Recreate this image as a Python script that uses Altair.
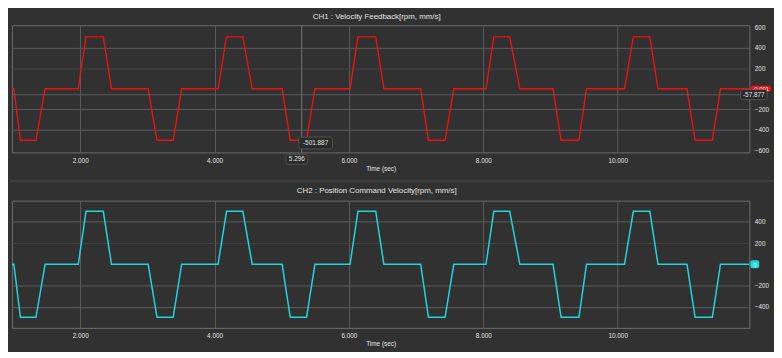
import altair as alt
import pandas as pd

# ---------------- data ----------------
time_s = [0.984, 1.013, 1.110, 1.342, 1.477, 1.971, 2.087, 2.344, 2.465, 3.012,
          3.143, 3.384, 3.510, 4.052, 4.178, 4.421, 4.560, 5.006, 5.126, 5.369,
          5.494, 6.017, 6.134, 6.399, 6.520, 7.068, 7.183, 7.431, 7.561, 8.040,
          8.156, 8.393, 8.544, 9.038, 9.158, 9.424, 9.536, 10.102, 10.233, 10.479,
          10.600, 11.032, 11.152, 11.409, 11.530, 11.960]
ch1_rpm = [0, 0, -502, -502, 0, 0, 506, 506, 0, 0,
           -502, -502, 0, 0, 506, 506, 0, 0, -502, -502,
           0, 0, 506, 506, 0, 0, -502, -502, 0, 0,
           506, 506, 0, 0, -502, -502, 0, 0, 506, 506,
           0, 0, -502, -502, 0, 0]
ch2_rpm = [0, 0, -500, -500, 0, 0, 500, 500, 0, 0,
           -500, -500, 0, 0, 500, 500, 0, 0, -500, -500,
           0, 0, 500, 500, 0, 0, -500, -500, 0, 0,
           500, 500, 0, 0, -500, -500, 0, 0, 500, 500,
           0, 0, -500, -500, 0, 0]

x_ticks = [2, 4, 6, 8, 10]
ch1_ticks = [-600, -400, -200, 200, 400, 600]
ch2_ticks = [-400, -200, 200, 400]
x_domain = [0.984, 11.96]
ch1_domain = [-620, 620]
ch2_domain = [-600, 600]

ch1_title = "CH1 : Velocity Feedback[rpm, mm/s]"
ch2_title = "CH2 : Position Command Velocity[rpm, mm/s]"
x_title = "Time (sec)"
cursor_time = 5.296
cursor_value = -501.887
hline_value = -57.877
ch1_live = "-0.001"
ch2_live = "0"

# ---------------- styling ----------------
BG = "#313131"
GRID = "#5c5c5c"
GRID_FAINT = "#444444"
FRAME = "#6e6e6e"
TXT = "#e4e4e4"
RED = "#ee1111"
CYAN = "#1fd6dc"
FONT = "Liberation Sans"
W, H1, H2 = 748, 129, 129

one = pd.DataFrame({"k": [0]})


def grid_color():
    return {"condition": [{"test": "abs(datum.value) == 600", "value": "transparent"},
                          {"test": "datum.value == 200", "value": GRID_FAINT}],
            "value": GRID}


def x_axis(title_pad):
    return alt.Axis(values=x_ticks, format=".3f", title=x_title, grid=True,
                    gridColor=GRID, ticks=False, domain=False, labelPadding=5,
                    labelFontSize=6.5, labelColor=TXT, labelFont=FONT,
                    labelOverlap=False,
                    titleFontSize=6.5, titleFontWeight="normal", titleColor=TXT,
                    titleFont=FONT, titlePadding=title_pad)


def y_axis(vals):
    return alt.Axis(values=vals, orient="right", title=None, grid=True,
                    gridColor=grid_color(), ticks=False, domain=False,
                    labelPadding=5, labelAlign="left", labelFontSize=6.5,
                    labelColor=TXT, labelFont=FONT, labelOverlap=False)


def text_at(x, y, txt, size=8, color=TXT):
    return alt.Chart(one).mark_text(fontSize=size, color=color, font=FONT,
                                    baseline="middle", align="center").encode(
        x=alt.value(x), y=alt.value(y), text=alt.value(txt))


def box_at(x, x2, y, y2, fill, stroke=None):
    kw = dict(fill=fill, cornerRadius=2)
    if stroke:
        kw.update(stroke=stroke, strokeWidth=0.8)
    return alt.Chart(one).mark_rect(**kw).encode(
        x=alt.value(x), x2=alt.value(x2), y=alt.value(y), y2=alt.value(y2))


# ---------------- CH1 ----------------
df1 = pd.DataFrame({"t": time_s, "v": ch1_rpm})
xs = alt.Scale(domain=x_domain, nice=False, zero=False)
ys1 = alt.Scale(domain=ch1_domain, nice=False, zero=False)
xa1 = x_axis(2)
ya1 = y_axis(ch1_ticks)

# nearly invisible rect fixing the drawing's outer bounds (774 x 342)
frame_bounds = alt.Chart(one).mark_rect(fill=BG, opacity=0.01).encode(
    x=alt.value(-2), x2=alt.value(772), y=alt.value(-14), y2=alt.value(328))

sep_line = alt.Chart(one).mark_rule(color="#505050").encode(
    x=alt.value(-2), x2=alt.value(772), y=alt.value(158))

line1 = alt.Chart(df1).mark_line(color=RED, strokeWidth=1.4).encode(
    x=alt.X("t:Q", scale=xs, axis=xa1),
    y=alt.Y("v:Q", scale=ys1, axis=ya1))

hline = alt.Chart(pd.DataFrame({"v": [hline_value]})).mark_rule(
    color="#5a5a5a", strokeWidth=1).encode(y=alt.Y("v:Q", scale=ys1, axis=ya1))
vline = alt.Chart(pd.DataFrame({"t": [cursor_time]})).mark_rule(
    color="#707070", strokeWidth=1).encode(x=alt.X("t:Q", scale=xs, axis=xa1))
cursor_pt = alt.Chart(pd.DataFrame({"t": [cursor_time], "v": [cursor_value]})).mark_square(
    size=6, color="#cfcfcf").encode(x=alt.X("t:Q", scale=xs, axis=xa1),
                                    y=alt.Y("v:Q", scale=ys1, axis=ya1))

c1 = alt.layer(
    frame_bounds, sep_line, line1, hline, vline, cursor_pt,
    text_at(370, -8, ch1_title, 8),
    box_at(291, 325, 113.5, 125.5, "#2a2a2a", "#5a5a5a"),
    text_at(308, 119.5, f"{cursor_value:.3f}", 6.5),
    box_at(278, 300, 131, 141, "#2a2a2a", "#5a5a5a"),
    text_at(289, 136, f"{cursor_time:.3f}", 6.5),
    box_at(749, 770, 61.5, 67.5, RED),
    text_at(759.5, 64.7, ch1_live, 6, "white"),
    box_at(739, 766, 65.5, 75.5, "#2a2a2a", "#5a5a5a"),
    text_at(752.5, 70.5, f"{hline_value:.3f}", 6.5),
).properties(width=W, height=H1)

# ---------------- CH2 ----------------
df2 = pd.DataFrame({"t": time_s, "v": ch2_rpm})
ys2 = alt.Scale(domain=ch2_domain, nice=False, zero=False)

line2 = alt.Chart(df2).mark_line(color=CYAN, strokeWidth=1.5).encode(
    x=alt.X("t:Q", scale=xs, axis=x_axis(1)),
    y=alt.Y("v:Q", scale=ys2, axis=y_axis(ch2_ticks)))

c2 = alt.layer(
    line2,
    text_at(370, -10, ch2_title, 8),
    box_at(749, 758, 60.5, 68.5, CYAN),
    text_at(753.5, 64.8, ch2_live, 6, "white"),
).properties(width=W, height=H2)

chart = alt.vconcat(c1, c2, spacing=49, bounds="flush").properties(
    background=BG, padding=0,
).configure_view(stroke=FRAME, strokeWidth=1)

chart.save("out.html", embed_options={"renderer": "svg", "actions": False})
